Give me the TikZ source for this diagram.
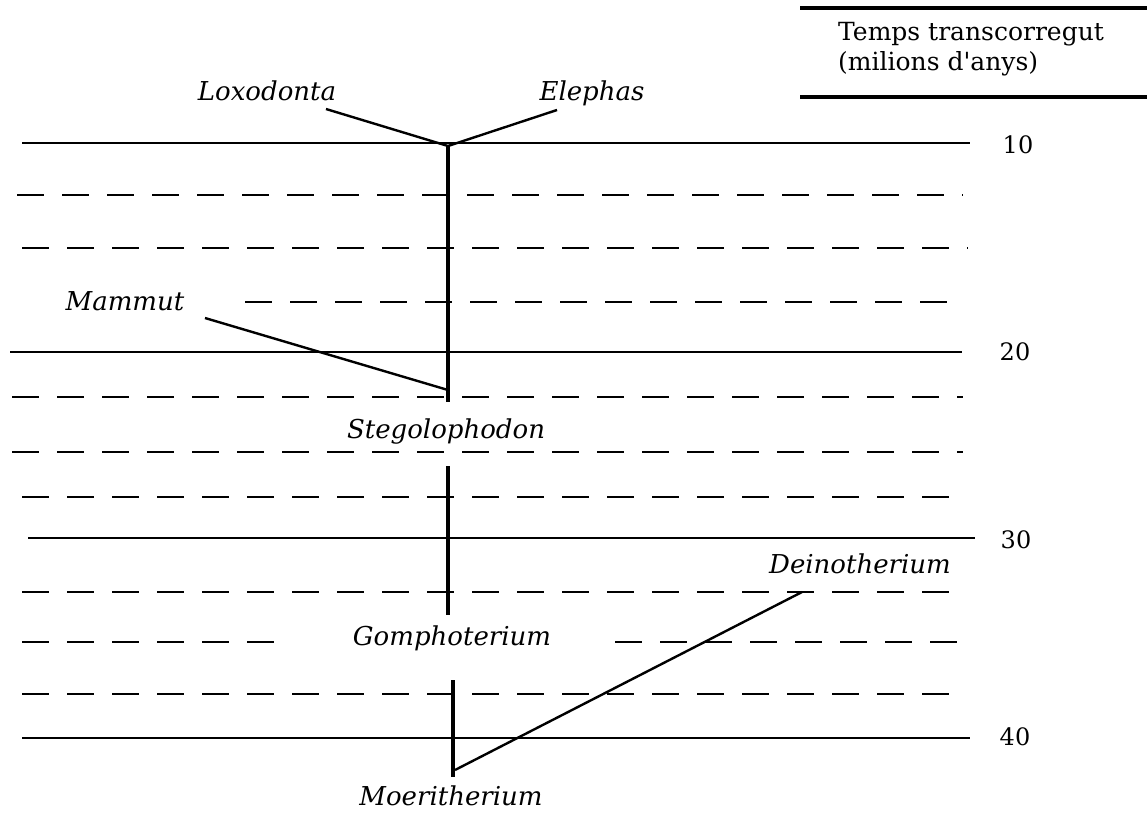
\documentclass[tikz,border=0pt]{standalone}
\usepackage{fontspec}
\setmainfont{DejaVu Serif}
\newfontfamily\plainserif{DejaVu Serif}[Ligatures=TeXOff]
\begin{document}
\begin{tikzpicture}[x=1pt,y=-1pt,
  solidrule/.style={line width=1.6pt},
  dashrule/.style={line width=1.6pt, dash pattern=on 27pt off 18pt},
  headrule/.style={line width=3.5pt},
  trunk/.style={line width=3.5pt},
  branch/.style={line width=2.4pt},
  taxon/.style={font=\fontsize{26}{30}\selectfont\itshape, inner sep=0pt, anchor=base},
  agelab/.style={font=\fontsize{24}{28}\selectfont, inner sep=0pt, anchor=base},
]
\useasboundingbox (0,0) rectangle (1147,812);
\fill[white] (0,0) rectangle (1147,812);

% header
\draw[headrule] (800,8) -- (1147,8);
\draw[headrule] (800,97) -- (1147,97);
\node[font=\plainserif\fontsize{25}{30}\selectfont, inner sep=0pt, anchor=north west, align=left]
  (head) at (838,22) {Temps transcorregut\\(milions d'anys)};

% solid time rules
\draw[solidrule] (22,143) -- (970,143);
\draw[solidrule] (10,352) -- (962,352);
\draw[solidrule] (28,538) -- (975,538);
\draw[solidrule] (22,738) -- (970,738);

% dashed rules
\draw[dashrule] (17,195) -- (963,195);
\draw[dashrule] (22,248) -- (968,248);
\draw[dashrule] (245,302) -- (963,302);
\draw[dashrule] (12,397) -- (963,397);
\draw[dashrule] (12,452) -- (963,452);
\draw[dashrule] (22,497) -- (963,497);
\draw[dashrule] (22,592) -- (963,592);
\draw[dashrule] (22,642) -- (275,642);
\draw[dashrule] (615,642) -- (963,642);
\draw[dashrule] (22,694) -- (963,694);

% age labels
\node[agelab] (a10) at (1018,153) {10};
\node[agelab] (a20) at (1015,360) {20};
\node[agelab] (a30) at (1016,548) {30};
\node[agelab] (a40) at (1015,745) {40};

% taxon labels
\node[taxon] (loxo) at (267,100) {Loxodonta};
\node[taxon] (elep) at (592,100) {Elephas};
\node[taxon] (mamm) at (125,310) {Mammut};
\node[taxon] (steg) at (446,438) {Stegolophodon};
\node[taxon] (gomp) at (452,645) {Gomphoterium};
\node[taxon] (dein) at (860,573) {Deinotherium};
\node[taxon] (moer) at (451,805) {Moeritherium};

% tree coordinates
\coordinate (top) at (448,146);
\coordinate (loxoend) at (326,109);
\coordinate (elepend) at (557,110);
\coordinate (stegtop) at (448,402);
\coordinate (mammjoin) at (448,390);
\coordinate (mammend) at (205,318);
\coordinate (gomptop) at (448,466);
\coordinate (gompbot) at (448,615);
\coordinate (moertop) at (453,680);
\coordinate (moerbot) at (453,777);
\coordinate (moerjoin) at (455,770);
\coordinate (deinend) at (802,592);

% tree
\draw[branch] (loxoend) -- (top) -- (elepend);
\draw[trunk] (top) -- (stegtop);
\draw[branch] (mammend) -- (mammjoin);
\draw[trunk] (gomptop) -- (gompbot);
\draw[trunk] (moertop) -- (moerbot);
\draw[branch] (moerjoin) -- (deinend);
\end{tikzpicture}
\end{document}
